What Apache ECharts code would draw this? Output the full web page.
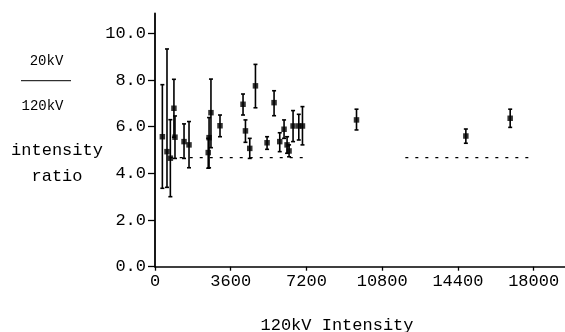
<!DOCTYPE html>
<html>
<head>
<meta charset="utf-8">
<script src="https://cdn.jsdelivr.net/npm/echarts@6/dist/echarts.min.js"></script>
<style>html,body{margin:0;padding:0;background:#fff}#c{width:565px;height:332px}</style>
</head>
<body>
<div id="c"></div>
<script>
var intensity = [350, 570, 730, 900, 950, 1380, 1617, 2570, 2530, 2660, 3090, 4185, 4775, 4300, 4504, 5660, 5327, 5930, 6135, 6278, 6373, 6563, 6835, 7010, 9579, 14777, 16884];
var ratio =     [5.57, 4.93, 4.65, 6.79, 5.55, 5.36, 5.22, 5.53, 4.89, 6.60, 6.04, 6.96, 7.75, 5.82, 5.07, 7.03, 5.31, 5.36, 5.89, 5.22, 4.96, 6.03, 6.03, 6.03, 6.29, 5.60, 6.36];
var errLow =    [3.36, 3.40, 3.00, 5.55, 4.64, 4.64, 4.24, 4.24, 4.22, 5.10, 5.57, 6.50, 6.81, 5.33, 4.64, 6.47, 5.03, 4.93, 5.50, 4.86, 4.71, 5.36, 5.43, 5.22, 5.86, 5.29, 5.97];
var errHigh =   [7.80, 9.33, 6.30, 8.03, 6.46, 6.12, 6.22, 6.39, 5.50, 8.04, 6.50, 7.40, 8.67, 6.29, 5.50, 7.54, 5.57, 5.74, 6.29, 5.57, 5.22, 6.69, 6.53, 6.86, 6.75, 5.90, 6.75];
var refLineX =  [700, 7300, null, 11900, 18000];
var refLineY =  [4.67, 4.67, null, 4.67, 4.67];
var xTicks = [0, 3600, 7200, 10800, 14400, 18000];
var yTicks = [0, 2, 4, 6, 8, 10];

var FONT = 'Liberation Mono';
var chart = echarts.init(document.getElementById('c'), null, {renderer: 'canvas'});
var pts = intensity.map(function (x, i) { return [x, ratio[i]]; });
var bars = intensity.map(function (x, i) { return [x, ratio[i], errLow[i], errHigh[i]]; });
var ref = refLineX.map(function (x, i) { return x === null ? [null, null] : [x, refLineY[i]]; });

chart.setOption({
  animation: false,
  backgroundColor: '#fff',
  grid: {left: 155, right: 0, top: 13.5, bottom: 65.3},
  xAxis: {
    type: 'value', min: 0, max: 19490, interval: 3600,
    axisLine: {lineStyle: {color: '#000', width: 1.5}},
    axisTick: {length: 4, customValues: xTicks, lineStyle: {color: '#000', width: 1.3}},
    axisLabel: {color: '#000', fontFamily: FONT, fontSize: 17, margin: 6, customValues: xTicks,
      formatter: function (v) { return String(v); }},
    splitLine: {show: false}
  },
  yAxis: {
    type: 'value', min: 0, max: 10.85, interval: 2,
    axisLine: {show: true, lineStyle: {color: '#000', width: 1.8}},
    axisTick: {show: true, length: 7, customValues: yTicks, lineStyle: {color: '#000', width: 1.3}},
    axisLabel: {color: '#000', fontFamily: FONT, fontSize: 17, margin: 9, customValues: yTicks,
      formatter: function (v) { return v.toFixed(1); }},
    splitLine: {show: false}
  },
  graphic: [
    {type: 'text', x: 46.5, y: 61, style: {text: '20kV', font: '14px "' + FONT + '"', fill: '#000', textAlign: 'center', textVerticalAlign: 'middle'}},
    {type: 'line', shape: {x1: 21, y1: 80.7, x2: 71, y2: 80.7}, style: {stroke: '#000', lineWidth: 1}},
    {type: 'text', x: 42.5, y: 106, style: {text: '120kV', font: '14px "' + FONT + '"', fill: '#000', textAlign: 'center', textVerticalAlign: 'middle'}},
    {type: 'text', x: 57, y: 150, style: {text: 'intensity', font: '17px "' + FONT + '"', fill: '#000', textAlign: 'center', textVerticalAlign: 'middle'}},
    {type: 'text', x: 57, y: 176.5, style: {text: 'ratio', font: '17px "' + FONT + '"', fill: '#000', textAlign: 'center', textVerticalAlign: 'middle'}},
    {type: 'text', x: 337, y: 325, style: {text: '120kV Intensity', font: '17px "' + FONT + '"', fill: '#000', textAlign: 'center', textVerticalAlign: 'middle'}}
  ],
  series: [
    {
      type: 'line', data: ref, symbol: 'none', connectNulls: false,
      lineStyle: {color: '#000', width: 1.2, type: [3, 7]}, z: 1
    },
    {
      type: 'custom', data: bars, z: 2,
      renderItem: function (params, api) {
        var x = api.value(0);
        var hi = api.coord([x, api.value(3)]);
        var lo = api.coord([x, api.value(2)]);
        var cw = 2;
        var st = {stroke: '#000', lineWidth: 1.6};
        return {type: 'group', children: [
          {type: 'line', shape: {x1: hi[0], y1: hi[1], x2: lo[0], y2: lo[1]}, style: st},
          {type: 'line', shape: {x1: hi[0] - cw, y1: hi[1], x2: hi[0] + cw, y2: hi[1]}, style: st},
          {type: 'line', shape: {x1: lo[0] - cw, y1: lo[1], x2: lo[0] + cw, y2: lo[1]}, style: st}
        ]};
      }
    },
    {
      type: 'scatter', data: pts, symbol: 'rect', symbolSize: 5.5, z: 3,
      itemStyle: {color: '#000'}
    }
  ]
});
</script>
</body>
</html>
